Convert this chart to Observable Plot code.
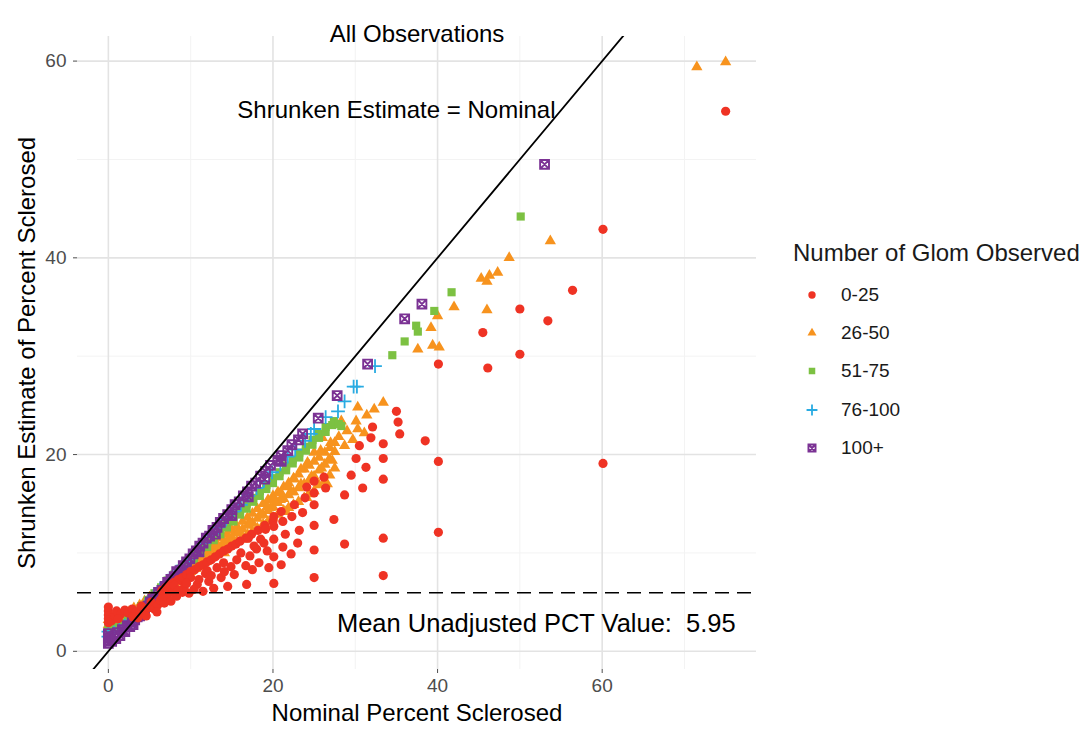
<!DOCTYPE html>
<html>
<head>
<meta charset="utf-8">
<script src="https://cdn.jsdelivr.net/npm/d3@7"></script>
<script src="https://cdn.jsdelivr.net/npm/@observablehq/plot@0.6"></script>
<style>
  body { margin: 0; background: #fff; font-family: "Liberation Sans", Arial, sans-serif; }
  #wrap { position: relative; width: 1084px; height: 734px; overflow: hidden; background: #fff; }
  #chart svg { display: block; }
  .leg { position: absolute; white-space: nowrap; color: #1a1a1a; }
</style>
</head>
<body>
<div id="wrap"><div id="chart"></div></div>
<script>
// Groups by number of glomeruli observed
const groups = ["0-25", "26-50", "51-75", "76-100", "100+"];
const colors = ["#ef3324", "#f7931e", "#7cc142", "#29abe2", "#7b3294"];

const meanValue = 5.95;

// [nominal percent sclerosed, shrunken estimate]
const obs0to25 = [
  [0,2.9],[0,3.3],[0,3.7],[0,4.1],[0,4.5],[0.4,3.1],[0.8,3.6],[1.0,4.1],[1.5,3.8],[2.0,4.2],[2.4,3.9],[2.9,4.3],
  [3.3,4.0],[3.6,3.4],[4.0,4.6],[4.3,3.8],[4.8,4.4],[5.2,5.0],[5.6,4.3],[6.0,4.7],[6.3,5.2],[6.8,4.9],[7.2,5.4],
  [7.6,5.1],[8.3,5.6],[7.0,5.8],[9.0,6.0],[9.8,5.9],[11.5,6.1],
  [1.2,3.3],[3.0,3.5],[4.6,3.6],[5.9,4.0],[6.6,5.6],[7.8,6.0],[9.0,7.1],
  [9.2,6.4],[10.8,6.8],[12.2,7.1],[13.7,7.5],[15.3,7.8],[17.5,8.3],[19.5,8.5],[21.0,8.8],
  [11.8,7.9],[13.2,8.5],[15.6,9.3],[17.2,9.7],[19.3,10.2],[21.2,10.6],[23.0,11.0],
  [6.5,6.2],[7.0,6.5],[7.5,6.8],[8.0,7.0],[8.5,7.3],[9.0,7.5],[9.5,7.8],[10.0,8.1],[10.5,8.3],[11.0,8.6],
  [11.5,8.8],[12.0,9.1],[12.5,9.3],[13.0,9.6],[13.5,9.9],[14.0,10.2],[14.5,10.4],[15.0,10.7],[15.5,10.9],
  [16.0,11.2],[16.7,11.5],[17.4,11.9],[18.2,12.3],[19.0,12.8],[20.0,13.2],
  [8.0,6.7],[10.0,7.5],[12.0,8.2],[14.0,9.0],[16.1,10.0],[18.0,10.4],[18.9,11.0],[20.1,11.4],[21.5,11.9],
  [23.2,12.3],[25.0,12.8],
  [9.5,6.9],[11.0,7.3],[12.5,7.7],[14.1,8.1],[14.9,8.6],[16.7,8.7],[18.3,9.0],[20.1,9.6],[22.2,9.9],[25.0,10.3],
  [28.7,10.9],[33.4,11.5],[40.1,12.1],
  [8.5,6.2],[10.4,6.3],[12.8,6.4],[14.5,6.6],[16.8,6.8],[20.1,6.9],[25.0,7.5],[33.4,7.7],
  [17.0,11.5],[17.7,10.7],[18.5,11.4],[19.1,12.4],[20.1,12.7],[20.1,13.7],[21.0,14.2],[21.2,13.2],[22.3,13.7],
  [22.6,14.9],[23.6,14.1],[23.9,15.6],[24.1,16.7],[25.0,14.9],[25.0,16.1],[25.0,17.3],[26.2,17.7],[26.4,16.6],
  [27.4,13.4],[28.7,15.9],[29.5,17.9],[30.1,19.6],[30.5,20.9],[30.9,16.6],[31.3,18.7],[31.9,21.7],[32.1,22.8],
  [33.4,17.5],[33.4,19.6],[33.4,21.1],[35.0,24.4],[35.2,23.3],[35.4,22.1],[38.5,21.4],[40.1,19.3],[40.1,29.2],
  [45.5,32.4],[46.1,28.8],[50.0,30.2],[50.0,34.8],[53.4,33.6],[56.4,36.7],[60.1,19.1],[60.1,42.9],[75.0,54.9]
];

const obs26to50 = [
  [0,2.7],[0,3.2],[0.6,2.9],[0.6,3.4],[1.2,3.0],[1.2,3.5],[1.9,3.3],[1.9,3.8],[2.5,3.6],[2.5,4.0],[3.1,3.9],[3.1,4.4],
  [3.8,4.3],[3.8,4.7],[4.4,4.7],[4.4,5.1],[5.0,5.1],[5.0,5.5],[5.7,5.6],[5.7,5.9],[6.3,6.0],[6.3,6.4],[6.9,6.3],
  [6.9,6.8],[7.5,6.7],[7.5,7.1],[8.1,7.0],[8.1,7.3],[8.1,7.6],[8.8,7.4],[8.8,7.8],[8.8,8.1],[9.4,7.7],[9.4,8.1],
  [9.4,8.5],[10,8.1],[10,8.5],[10,8.9],[10.6,8.4],[10.6,8.9],[10.6,9.3],[11.3,8.8],[11.3,9.3],[11.3,9.8],
  [11.9,9.1],[11.9,9.6],[11.9,10.2],[12.5,9.5],[12.5,10.0],[12.5,10.6],[13.1,9.8],[13.1,10.4],[13.1,11.0],
  [13.8,10.2],[13.8,10.8],[13.8,11.5],[14.4,10.5],[14.4,11.2],[14.4,11.9],[15,10.9],[15,11.6],[15,12.3],
  [15.6,11.2],[15.6,12.0],[15.6,12.7],[16.3,11.6],[16.3,12.4],[16.3,13.2],[16.9,11.9],[16.9,12.8],[16.9,13.6],
  [17.5,12.2],[17.5,13.1],[17.5,14.0],[18.1,12.5],[18.1,13.5],[18.1,14.5],[18.8,12.9],[18.8,13.9],[18.8,15.0],
  [19.4,13.2],[19.4,14.3],[19.4,15.4],[20,13.6],[20,14.7],[20,15.8],[20.6,13.9],[20.6,15.1],[20.6,16.2],
  [21.3,14.3],[21.3,15.5],[21.3,16.7],[21.9,14.6],[21.9,15.9],[21.9,17.1],[22.5,14.9],[22.5,16.2],[22.5,17.6],
  [23.1,15.2],[23.1,16.6],[23.1,18.0],[23.8,15.6],[23.8,17.0],[23.8,18.5],[24.4,16.0],[24.4,17.4],[24.4,18.9],
  [25,16.3],[25,17.8],[25,19.3],[25.6,16.9],[25.6,18.4],[25.6,19.7],[26.3,17.3],[26.3,19.0],[26.3,20.2],
  [26.9,17.9],[26.9,19.5],[26.9,20.7],[27.5,18.6],[27.5,20.3],[27.5,21.2],
  [7.2,6.6],[8.4,7.3],[9.7,8.2],[10.9,9.0],[12.2,9.8],[13.4,10.6],[14.7,11.4],[15.9,12.2],[17.2,13.0],[18.4,13.8],
  [19.7,14.6],[20.9,15.4],[22.2,16.2],[23.4,17.0],[24.7,17.8],[25.9,18.6],[27.2,19.4],[28.0,21.8],[29.0,22.4],
  [11.6,8.6],[14.1,10.0],[16.6,11.4],[19.1,12.8],[21.6,14.2],[24.1,15.6],[26.6,17.0],
  [18.7,13.9],[19.3,14.7],[20.1,15.4],[21.0,16.1],[21.8,16.8],[22.6,17.5],[23.4,18.5],[24.2,19.2],[25.0,20.2],
  [25.8,20.4],[26.0,21.7],[26.8,19.5],[27.0,21.2],[28.3,23.4],[28.7,20.9],[29.7,21.5],[30.1,23.4],[30.3,22.6],
  [30.3,24.8],[31.1,22.2],[31.4,24.0],[32.3,24.6],[33.4,25.3],[37.6,30.7],[39.4,31.1],[40.2,30.9],[39.2,32.9],
  [40.0,34.1],[42.0,35.0],[46.0,34.7],[45.3,37.9],[46.0,37.6],[46.3,38.2],[47.3,38.5],[48.7,40.0],[53.7,41.7],
  [71.5,59.4],[75.0,59.9]
];

const obs51to75 = [
  [0,2.0],[0,2.4],[0.8,2.1],[0.8,2.5],[1.6,2.5],[1.6,2.9],[2.4,3.0],[2.4,3.4],[3.2,3.6],[3.2,4.0],[4.0,4.2],
  [4.0,4.6],[4.8,4.8],[4.8,5.2],[5.6,5.5],[5.6,5.9],[6.4,6.1],[6.4,6.5],[7.2,6.8],[7.2,7.2],[8.0,7.4],[8.0,7.8],
  [8.8,8.0],[8.8,8.4],[9.6,8.7],[9.6,9.1],[10.4,9.3],[10.4,9.8],[11.2,10.0],[11.2,10.4],[12.0,10.6],[12.0,11.1],
  [12.8,11.3],[12.8,11.7],[13.6,11.9],[13.6,12.4],[14.4,12.6],[14.4,13.0],[15.2,13.2],[15.2,13.7],[16.0,13.9],
  [16.0,14.3],[16.8,14.5],[16.8,15.0],[17.6,15.2],[17.6,15.6],[18.4,15.8],[18.4,16.3],[19.2,16.5],[19.2,16.9],
  [20.0,17.1],[20.0,17.6],[20.8,17.8],[20.8,18.2],[21.6,18.4],[21.6,18.9],[22.4,19.1],[22.4,19.5],[23.2,19.7],
  [23.2,20.2],[24.0,20.4],[24.0,20.8],[24.8,21.0],[24.8,21.5],[25.6,21.7],[25.6,22.1],[26.4,22.3],[26.4,22.8],
  [27.2,23.0],[27.4,23.4],[28.0,23.1],[28.3,22.9],
  [34.5,30.1],[36.0,31.5],[37.4,33.1],[37.6,32.5],[39.6,34.6],[41.7,36.5],[50.1,44.2]
];

const obs76to100 = [
  [0,1.5],[0,2.0],[0.7,1.9],[1.3,2.3],[2.0,2.6],[2.8,3.1],[3.6,4.0],[4.5,4.7],[5.5,5.6],[6.3,6.4],[7.1,7.0],
  [8.0,7.8],[9.0,8.7],[9.8,9.4],[10.8,10.3],[11.6,11.0],[12.5,11.8],[13.4,12.6],[14.3,13.4],[15.2,14.2],
  [16.1,14.9],[17.0,15.8],[18.0,16.6],[18.9,17.3],[19.9,18.2],[20.9,19.0],[21.8,19.8],[22.7,20.5],[23.9,21.4],
  [24.6,22.1],[25.0,22.6],[26.4,23.8],[27.9,24.4],[28.7,25.4],[29.8,26.9],[30.2,26.9],[32.4,29.0]
];

const obs100plus = [
  [0,0.8],[0,1.1],[0,1.4],[0,1.8],[0.4,1.0],[0.6,1.5],[0.9,1.3],[1.1,1.9],[1.4,1.6],[1.7,2.2],[2.0,2.0],[2.3,2.6],
  [2.6,2.5],[2.9,3.0],[3.2,3.2],[3.5,3.5],[3.8,3.6],[4.1,4.1],[4.4,4.2],[4.8,4.6],[5.1,5.0],[5.4,5.3],[5.8,5.5],
  [6.1,6.0],[6.5,6.2],[6.9,6.6],[7.2,7.0],[7.6,7.3],[8.0,7.6],[8.3,8.1],[8.7,8.2],[9.1,8.7],[9.5,9.1],[9.9,9.4],
  [10.3,9.9],[10.7,10.2],[11.1,10.7],[11.5,11.0],[11.9,11.5],[12.3,11.7],[12.7,12.3],[13.2,12.6],[13.6,13.1],
  [14.0,13.5],[14.5,13.9],[15.0,14.4],[15.4,14.9],[15.9,15.2],[16.4,15.8],[16.9,16.2],[17.4,16.8],[17.9,17.1],
  [18.5,17.8],[19.1,18.3],[19.7,18.9],[20.6,19.4],[21.0,19.9],[21.8,20.4],[22.3,21.0],[23.1,21.5],[23.6,22.1],
  [25.5,23.7],[27.8,26.0],[31.5,29.2],[36.0,33.8],[38.1,35.3],[53.0,49.5],
  [3.0,2.7],[5.0,4.6],[7.0,6.3],[9.0,8.2],[11.0,10.1],[13.0,11.9],[15.0,13.8],[17.0,15.7],[19.0,17.5],[21.0,19.3]
];

const xMajor = [0, 20, 40, 60];
const xMinor = [10, 30, 50, 70];
const yMajor = [0, 20, 40, 60];
const yMinor = [10, 30, 50];

const titleText = "All Observations";
const xTitle = "Nominal Percent Sclerosed";
const yTitle = "Shrunken Estimate of Percent Sclerosed";
const legendTitle = "Number of Glom Observed";
const notes = [
  {x: 35, y: 55, size: 24, label: "Shrunken Estimate = Nominal"},
  {x: 52, y: 2.8, size: 25.5, label: `Mean Unadjusted PCT Value:\u00a0 ${meanValue.toFixed(2)}`}
];

// ggplot-like shape 7: a square with a cross through it
const squareCross = {
  draw(ctx, size) {
    const r = Math.sqrt(size) / 2;
    ctx.moveTo(-r, -r); ctx.lineTo(r, -r); ctx.lineTo(r, r); ctx.lineTo(-r, r); ctx.closePath();
    ctx.moveTo(-r, -r); ctx.lineTo(r, r);
    ctx.moveTo(r, -r); ctx.lineTo(-r, r);
  }
};

const symbolSpecs = [
  {data: obs0to25, symbol: "circle", r: 4.6, filled: true},
  {data: obs26to50, symbol: "triangle", r: 4.2, filled: true},
  {data: obs51to75, symbol: "square", r: 4.6, filled: true},
  {data: obs76to100, symbol: "plus", r: 4.5, filled: false, sw: 1.8},
  {data: obs100plus, symbol: squareCross, r: 5.0, filled: false, sw: 1.9}
];

const xDomain = [-3.75, 78.75];
const yDomain = [-1.85, 62.5];
const diag = [Math.min(xDomain[0], yDomain[0]), Math.max(xDomain[1], yDomain[1])];

const font = "'Liberation Sans', Arial, Helvetica, sans-serif";
const textSize = 24;

function dotsFor(i) {
  const s = symbolSpecs[i];
  const opts = {x: d => d[0], y: d => d[1], symbol: s.symbol, r: s.r};
  if (s.filled) Object.assign(opts, {fill: colors[i], stroke: "none"});
  else Object.assign(opts, {fill: "none", stroke: colors[i], strokeWidth: s.sw});
  return Plot.dot(s.data, opts);
}

// drawing order: orange, green, blue, purple, then red on top
const drawOrder = [1, 2, 3, 4, 0];

const chart = Plot.plot({
  width: 1084,
  height: 734,
  marginLeft: 77,
  marginRight: 328,
  marginTop: 36,
  marginBottom: 65,
  style: {fontFamily: font, background: "white", overflow: "visible"},
  x: {domain: xDomain},
  y: {domain: yDomain},
  marks: [
    Plot.gridX(xMinor, {stroke: "#f3f3f3", strokeOpacity: 1, strokeWidth: 1}),
    Plot.gridY(yMinor, {stroke: "#f3f3f3", strokeOpacity: 1, strokeWidth: 1}),
    Plot.gridX(xMajor, {stroke: "#e3e3e3", strokeOpacity: 1, strokeWidth: 1.6}),
    Plot.gridY(yMajor, {stroke: "#e3e3e3", strokeOpacity: 1, strokeWidth: 1.6}),
    Plot.axisX(xMajor, {tickSize: 4, tickPadding: 5, fontSize: 19, color: "#4d4d4d", label: null}),
    Plot.axisY(yMajor, {tickSize: 4, tickPadding: 7, fontSize: 19, color: "#4d4d4d", label: null}),
    ...drawOrder.map(dotsFor),
    Plot.line(diag, {x: d => d, y: d => d, stroke: "black", strokeWidth: 1.8, clip: true}),
    Plot.ruleY([meanValue], {stroke: "black", strokeWidth: 1.7, strokeDasharray: "14,8"}),
    Plot.text(notes, {x: "x", y: "y", text: "label", fontSize: "size", fill: "black"}),
    Plot.text([titleText], {frameAnchor: "top", dy: -12, fontSize: textSize, fill: "black"}),
    Plot.text([xTitle], {frameAnchor: "bottom", dy: 51, fontSize: textSize, fill: "black"}),
    Plot.text([yTitle], {frameAnchor: "left", textAnchor: "middle", dx: -50, rotate: -90, fontSize: textSize, fill: "black"})
  ]
});

document.getElementById("chart").appendChild(chart);

// legend on the right
const wrap = document.getElementById("wrap");
const lt = document.createElement("div");
lt.className = "leg";
lt.textContent = legendTitle;
Object.assign(lt.style, {left: "793px", top: "239px", fontSize: textSize + "px", lineHeight: "28px"});
wrap.appendChild(lt);

groups.forEach((g, i) => {
  const s = symbolSpecs[i];
  const cy = 295 + i * 38.2;
  const ns = "http://www.w3.org/2000/svg";
  const svg = document.createElementNS(ns, "svg");
  svg.setAttribute("width", 24);
  svg.setAttribute("height", 24);
  svg.style.position = "absolute";
  svg.style.left = (812 - 12) + "px";
  svg.style.top = (cy - 12) + "px";
  const symType = typeof s.symbol === "string"
    ? {circle: d3.symbolCircle, triangle: d3.symbolTriangle, square: d3.symbolSquare, plus: d3.symbolPlus}[s.symbol]
    : s.symbol;
  const rr = s.r * 0.8;
  const path = document.createElementNS(ns, "path");
  path.setAttribute("d", d3.symbol(symType, Math.PI * rr * rr)());
  path.setAttribute("transform", "translate(12,12)");
  if (s.filled) { path.setAttribute("fill", colors[i]); }
  else { path.setAttribute("fill", "none"); path.setAttribute("stroke", colors[i]); path.setAttribute("stroke-width", s.sw); }
  svg.appendChild(path);
  wrap.appendChild(svg);

  const lab = document.createElement("div");
  lab.className = "leg";
  lab.textContent = g;
  Object.assign(lab.style, {left: "841px", top: (cy - 11) + "px", fontSize: "19px", lineHeight: "22px"});
  wrap.appendChild(lab);
});
</script>
</body>
</html>
